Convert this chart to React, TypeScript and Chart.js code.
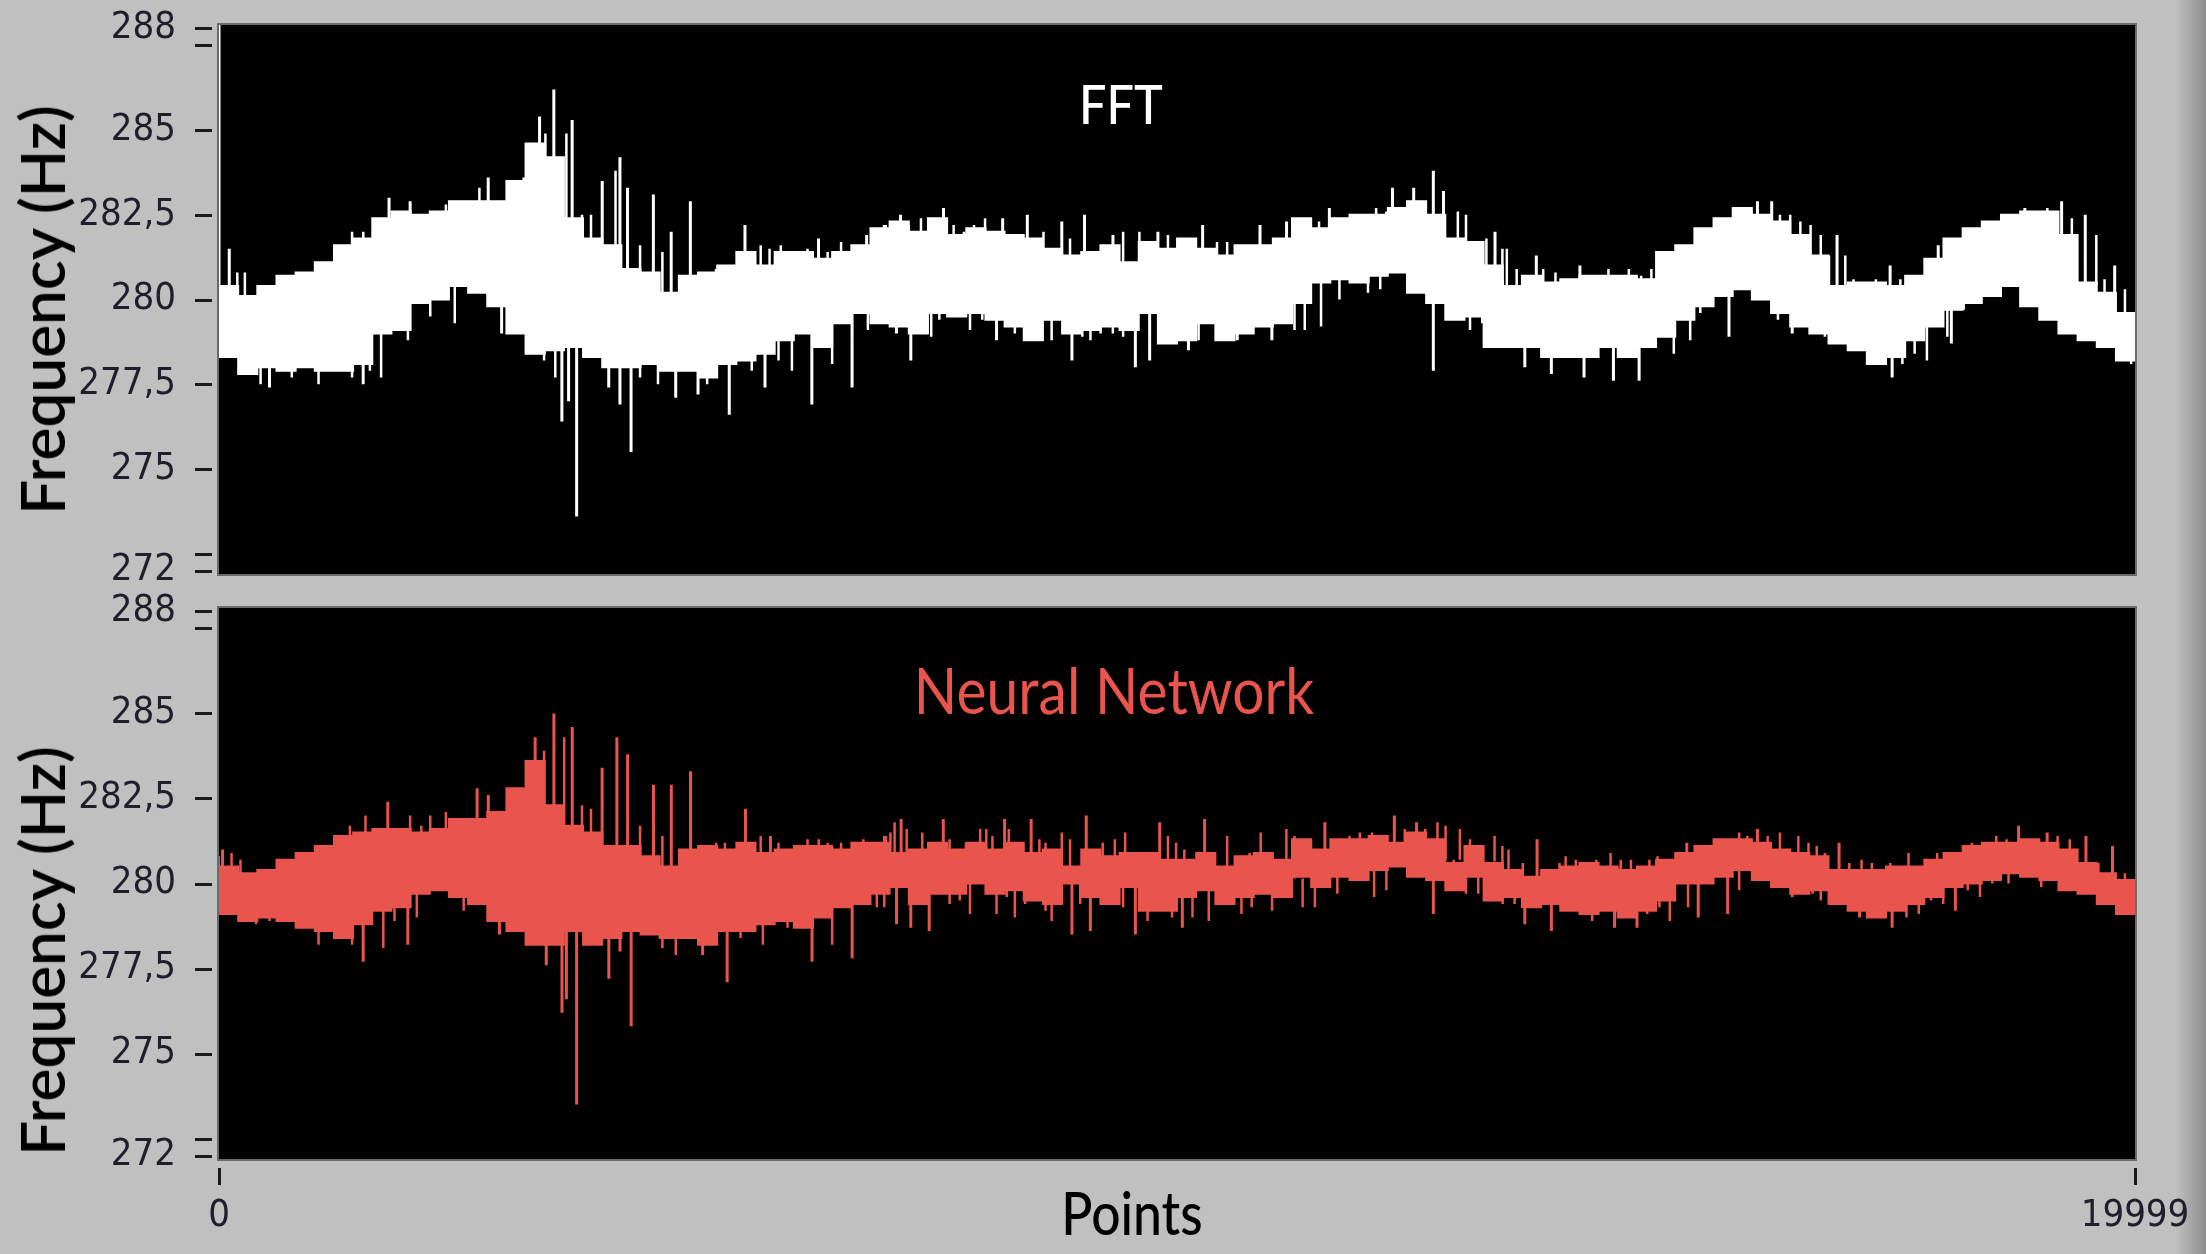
import React, { useEffect, useRef } from 'react';
import { Chart, registerables } from 'chart.js';

Chart.register(...registerables);

// ---------- data ----------
const X_MAX = 19999;
const BIN_STEP = 200;
// sample-index grid of the min/max envelope (one bin per 200 points, plus the last sample)
const BIN_X: number[] = Array.from({ length: 100 }, (_, i) => i * BIN_STEP).concat([X_MAX]);

const Y_TICKS = [272, 272.5, 275, 277.5, 280, 282.5, 285, 287.5, 288];
const Y_LABELS = [272, 275, 277.5, 280, 282.5, 285, 288];
const X_TICKS = [0, 19999];

// FFT envelope (Hz)
const FFT_UPPER = [
  280.8, 280.4, 280.1, 280.4, 280.7, 280.8, 281.1, 281.6, 281.8, 282.4, 282.6, 282.5, 282.6, 282.9, 282.9, 282.9, 283.5, 284.6,
  284.2, 282.4, 281.8, 281.6, 280.9, 280.8, 280.2, 280.7, 280.8, 281.0, 281.4, 281.0, 281.4, 281.4, 281.2, 281.4, 281.6,
  282.1, 282.3, 282.0, 282.4, 281.9, 282.1, 282.0, 281.9, 281.8, 281.5, 281.3, 281.4, 281.6, 281.1, 281.7, 281.5, 281.8,
  281.5, 281.3, 281.6, 281.6, 281.8, 282.4, 282.1, 282.4, 282.5, 282.5, 282.7, 282.9, 282.5, 281.8, 281.7,
  281.0, 280.4, 280.7, 280.5, 280.6, 280.7, 280.7, 280.7, 280.6, 281.4, 281.6, 282.1, 282.4, 282.7, 282.5, 282.3, 281.9,
  281.3, 280.4, 280.5, 280.5, 280.4, 280.7, 281.2, 281.8, 282.1, 282.3, 282.5, 282.6, 282.6, 281.9, 280.5, 280.2, 279.6,
];
const FFT_LOWER = [
  278.8, 278.3, 277.8, 278.0, 277.9, 278.0, 277.9, 277.9, 278.1, 279.0, 279.1, 279.9, 280.0, 280.4, 280.2, 279.8, 279.0, 278.4,
  278.5, 278.6, 278.3, 278.0, 278.0, 278.1, 277.9, 277.9, 277.7, 278.1, 278.2, 278.4, 278.8, 279.0, 278.6, 279.3, 279.6,
  279.3, 279.2, 279.0, 279.6, 279.5, 279.6, 279.4, 279.2, 278.8, 279.4, 279.0, 279.1, 279.2, 279.1, 279.6, 278.7, 278.8,
  279.3, 278.8, 279.0, 279.2, 279.3, 279.9, 280.5, 280.6, 280.5, 280.7, 280.8, 280.2, 279.9, 279.4, 279.5,
  278.6, 278.6, 278.6, 278.3, 278.3, 278.3, 278.6, 278.3, 278.6, 278.9, 279.4, 279.8, 280.1, 280.3, 280.0, 279.6, 279.2,
  279.0, 278.7, 278.5, 278.1, 278.3, 278.8, 279.2, 279.7, 279.9, 280.1, 280.4, 279.8, 279.4, 279.0, 278.8, 278.6, 278.2,
];
// FFT isolated spikes: sample index and tip value (Hz)
const FFT_SPIKE_X = [
  0, 107, 1775, 1995, 2810, 3183, 3346, 3495, 3686, 4000, 4185, 4264, 4534, 4720, 4920, 5490, 6258, 6760, 6944, 6957,
  7114, 7562, 8180, 8437, 8797, 9034, 9331, 9800, 10267, 10866, 11143, 11228, 11590, 12249, 12470, 12675, 12781, 13319,
  13750, 14205, 15164, 16058, 16207, 16889, 17443, 17945, 18849, 19233, 19480, 19787,
  527, 1505, 2950, 3230, 3579, 3649, 3733, 4068, 4185, 4301, 4767, 5000, 5326, 5699, 6188, 6608, 7071, 7221, 8116, 8903,
  9565, 9714, 10119, 10628, 10990, 12675, 13630, 13907, 14248, 14555, 14823, 15761, 16421, 17464, 18082,
];
const FFT_SPIKE_Y = [
  288.1, 281.5, 283.0, 282.9, 283.6, 283.6, 285.4, 286.2, 285.3, 283.5, 284.2, 283.3, 283.1, 282.0, 282.9, 282.2, 281.8,
  281.9, 282.2, 282.2, 282.5, 282.7, 282.4, 282.5, 282.3, 282.5, 281.9, 282.0, 282.2, 282.2, 282.3, 282.3, 282.7, 283.3,
  283.3, 283.8, 283.2, 282.0, 281.3, 281.0, 281.4, 282.9, 282.9, 281.9, 281.0, 281.6, 282.7, 282.9, 282.5, 281.0,
  277.4, 277.5, 279.0, 278.5, 276.4, 277.0, 273.6, 277.4, 276.9, 275.5, 277.1, 277.2, 276.6, 277.4, 276.9, 277.4, 279.0,
  278.2, 278.8, 278.2, 278.0, 278.2, 278.5, 278.8, 278.8, 277.9, 278.0, 277.8, 277.7, 277.6, 277.6, 278.9, 279.0, 277.7,
  278.7,
];
// FFT short edge hairs: sample index and tip value (Hz)
const FFT_HAIR_X = [
  191, 270, 480, 667, 783, 900, 1016, 1133, 1203, 1389, 1506, 1622, 1902, 2088, 2205, 2368, 2461, 2624, 2718, 2951, 3044,
  3114, 3253, 3407, 3626, 3789, 3883, 4139, 4395, 4628, 5188, 5304, 5421, 5654, 5747, 5864, 6143, 6353, 6493, 6609,
  247, 340, 434, 620, 760, 900, 1039, 1133, 1273, 1389, 1575, 1692, 1972, 2205, 2461, 3137, 3393, 3510, 3836, 3953, 4395,
  4582, 4908, 5095, 5561, 5840, 5980, 6400, 6773, 6912,
  7008, 7200, 7327, 7434, 7668, 7775, 7881, 7996, 8606, 8883, 9215, 9437, 9607, 9905, 10033, 10161, 10417, 10523, 10630,
  10971, 11482, 11695, 11908, 12078, 12185, 12313, 12547, 12931, 13016, 13229, 13442,
  6944, 7327, 7434, 7519, 7668, 7839, 7967, 8201, 8307, 8478, 8584, 8691, 9011, 9096, 9202, 9330, 9437, 9969, 10225, 10417,
  10736, 11226, 11333, 11503, 11695, 11993, 12121, 12590, 12824, 12931, 13058, 13186, 13399, 13527,
  13396, 13545, 13822, 13950, 14290, 14376, 14503, 14716, 14844, 14951, 15270, 15356, 15484, 15633, 15718, 15846, 15931,
  16293, 16400, 16506, 16613, 16719, 16805, 16975, 17060, 17294, 17550, 17657, 18040, 18168, 18296, 18402, 18509, 18637,
  18743, 18978, 19084, 19340, 19595, 19681, 19894,
  13396, 13523, 13779, 14013, 14120, 14376, 14482, 14716, 14951, 15100, 15185, 15356, 15462, 16272, 16506, 16634, 16762,
  16890, 17017, 17124, 17231, 17358, 17571, 17699, 17827, 17912, 18040, 18211, 19191, 19319, 19425, 19574, 19659, 19787,
  19894, 19958,
];
const FFT_HAIR_Y = [
  280.8, 280.8, 280.3, 280.5, 280.6, 280.8, 280.6, 280.9, 281.2, 282.0, 282.0, 282.0, 282.2, 282.5, 282.5, 282.8, 282.5,
  282.7, 283.3, 282.9, 282.9, 283.1, 283.2, 284.9, 284.9, 282.5, 282.5, 283.8, 281.6, 281.4, 280.9, 280.8, 281.0, 281.6,
  281.5, 281.6, 281.5, 281.4, 281.7, 281.4,
  278.4, 277.9, 277.5, 277.9, 277.7, 278.3, 277.5, 278.2, 277.9, 277.7, 277.9, 277.7, 278.8, 279.5, 279.3, 279.3, 278.2,
  277.7, 278.6, 278.3, 277.7, 277.5, 277.9, 277.5, 277.9, 278.2, 277.9, 278.1, 279.1, 279.5,
  282.3, 282.2, 282.4, 282.0, 282.2, 282.0, 282.2, 282.4, 282.0, 281.8, 281.5, 282.0, 282.0, 281.9, 281.6, 281.4, 281.7,
  281.7, 281.6, 281.6, 282.3, 282.0, 282.5, 282.7, 282.6, 282.7, 282.6, 282.6, 282.5, 281.8, 281.5,
  279.5, 279.5, 278.9, 279.4, 279.5, 279.1, 279.4, 279.5, 279.0, 279.5, 279.2, 278.8, 278.9, 278.8, 279.0, 279.0, 278.9,
  279.1, 278.8, 279.4, 279.3, 279.1, 279.1, 279.2, 280.0, 280.2, 280.3, 280.2, 280.0, 279.8, 279.1, 279.3, 278.6, 278.6,
  281.5, 280.9, 280.9, 280.8, 280.7, 280.7, 280.9, 280.9, 280.7, 280.9, 281.5, 281.3, 281.6, 282.4, 282.1, 282.4, 282.5,
  282.5, 282.5, 282.3, 282.2, 281.9, 281.3, 281.3, 280.6, 280.6, 280.6, 280.7, 280.9, 281.3, 281.9, 281.9, 282.2, 282.2,
  282.4, 282.4, 282.7, 282.4, 281.9, 280.6, 280.3,
  279.2, 278.6, 278.9, 278.9, 278.5, 278.5, 278.7, 278.9, 278.6, 278.9, 278.4, 278.8, 279.6, 279.4, 279.8, 279.5, 278.9,
  279.6, 278.9, 278.6, 278.9, 278.3, 278.1, 278.4, 278.2, 279.2, 278.9, 279.7, 279.4, 279.6, 279.0, 279.1, 278.8, 279.0,
  278.6, 278.1,
];

// Neural Network envelope (Hz)
const NN_UPPER = [
  280.8, 280.5, 280.3, 280.4, 280.7, 280.9, 281.1, 281.4, 281.5, 281.6, 281.6, 281.5, 281.6, 281.9, 281.9, 282.1, 282.8, 283.6,
  282.3, 281.7, 281.5, 281.1, 281.1, 280.8, 280.5, 281.0, 281.1, 281.0, 281.2, 280.9, 281.0, 281.1, 281.1, 281.0, 281.2,
  281.2, 280.9, 281.0, 281.2, 281.0, 281.2, 281.0, 281.2, 280.9, 281.0, 280.5, 281.0, 280.8, 280.9, 280.9, 280.7, 280.7,
  280.9, 280.5, 280.8, 280.9, 280.7, 281.3, 281.0, 281.3, 281.3, 281.4, 281.2, 281.5, 281.3, 280.6, 281.1,
  280.6, 280.4, 280.2, 280.4, 280.5, 280.6, 280.5, 280.4, 280.5, 280.7, 280.9, 281.1, 281.3, 281.3, 281.2, 281.0, 280.9,
  280.8, 280.4, 280.4, 280.4, 280.5, 280.5, 280.7, 280.9, 281.1, 281.2, 281.2, 281.3, 281.2, 281.0, 280.6, 280.3, 280.1,
];
const NN_LOWER = [
  279.5, 279.1, 278.9, 279.0, 278.9, 278.7, 278.6, 278.4, 278.8, 279.2, 279.3, 279.7, 279.8, 279.6, 279.4, 278.9, 278.6, 278.2,
  278.2, 278.6, 278.2, 278.4, 278.6, 278.5, 278.4, 278.4, 278.2, 278.6, 278.6, 278.8, 278.9, 278.7, 279.0, 279.3, 279.4,
  279.7, 279.9, 279.4, 279.7, 279.7, 280.0, 279.7, 279.8, 279.5, 279.4, 280.0, 279.6, 279.4, 279.9, 279.2, 279.2, 279.6,
  279.8, 279.4, 279.6, 279.7, 279.6, 280.2, 279.9, 280.2, 280.1, 280.4, 280.5, 280.2, 280.1, 279.8, 280.2,
  279.5, 279.6, 279.3, 279.4, 279.2, 279.1, 279.2, 279.0, 279.2, 279.5, 280.0, 280.0, 280.2, 280.4, 280.1, 279.9, 279.7,
  279.8, 279.4, 279.2, 279.0, 279.2, 279.4, 279.6, 279.9, 280.0, 280.1, 280.3, 280.2, 280.1, 279.8, 279.7, 279.4, 279.1,
];
const NN_SPIKE_X = [
  37, 1762, 2694, 2811, 3300, 3496, 3687, 3999, 4153, 4265, 4535, 4721, 4922, 5495, 5756, 6959, 7120, 7560, 8200, 8477,
  9052, 9819, 10288, 11543, 12268, 12500, 13758, 15321, 16058, 16910, 18784, 19082, 19487, 19764,
  1505, 1971, 2927, 3416, 3580, 3626, 3733, 4069, 4186, 4302, 5048, 5304, 6190, 6609, 7072, 7221, 7413, 8903, 9095, 9565,
  10055, 12675, 13630, 13907, 14567, 14801, 15440, 15747, 16421, 17124, 17464, 18124,
];
const NN_SPIKE_Y = [
  281.0, 282.4, 282.8, 282.6, 284.3, 285.0, 284.6, 283.4, 284.3, 283.8, 282.9, 282.9, 283.3, 282.2, 281.4, 281.4, 281.9,
  281.9, 281.9, 281.9, 282.0, 281.8, 281.9, 281.8, 282.0, 281.8, 281.3, 281.2, 281.6, 281.2, 281.7, 281.5, 281.4, 281.1,
  277.7, 278.2, 278.5, 277.6, 276.2, 276.6, 273.5, 277.2, 278.0, 275.8, 277.9, 277.1, 277.7, 277.8, 278.8, 278.7, 278.6,
  278.5, 278.6, 278.5, 278.7, 279.1, 278.8, 278.6, 278.7, 278.7, 279.0, 279.1, 279.6, 279.0, 278.7, 279.2,
];
const NN_HAIR_X = [
  131, 224, 480, 690, 806, 923, 1039, 1156, 1273, 1366, 1529, 1622, 1879, 1995, 2112, 2205, 2368, 2484, 2578, 2950, 3090,
  3184, 3393, 3603, 3789, 3883, 4395, 4628, 5188, 5281, 5654, 5840, 6143, 6260, 6353, 6493, 6726, 7052,
  37, 131, 247, 387, 527, 783, 900, 1039, 1133, 1273, 1389, 1715, 1832, 2065, 2321, 2554, 2718, 3044, 3114, 3230, 3347,
  3510, 3836, 3953, 4465, 4628, 4768, 4885, 5444, 5561, 5677, 5794, 5934, 6050, 6400, 6866,
  6944, 7008, 7178, 7340, 7626, 7796, 7945, 8009, 8073, 8244, 8563, 8627, 8797, 8883, 9224, 9351, 9458, 9905, 9990, 10076,
  10523, 10758, 10873, 11141, 11226, 11397, 11801, 11908, 12036, 12164, 12377, 12590, 12718, 12803, 12952, 13058, 13314,
  6944, 7306, 7626, 7732, 7839, 8116, 8222, 8307, 8414, 8627, 8691, 8797, 8989, 9202, 9330, 9437, 9692, 9863, 9948, 10161,
  10331, 10544, 10672, 10779, 10992, 11311, 11439, 11673, 12057, 12185, 12547, 12888, 13016, 13144, 13399, 13527,
  13396, 13460, 13609, 13992, 14056, 14163, 14376, 14525, 14631, 14738, 14930, 15015, 15441, 15547, 15633, 15739, 15867,
  15952, 16165, 16293, 16485, 16591, 16677, 16762, 17017, 17145, 17252, 17444, 17635, 17934, 18168, 18296, 18424, 18551,
  18658, 18893, 19191, 19318, 19617, 19894,
  13396, 13523, 13758, 14035, 14141, 14333, 14461, 14695, 14908, 15036, 15143, 15334, 15867, 16080, 16293, 16527, 16634,
  16719, 16847, 17252, 17358, 17614, 17742, 17870, 17997, 18253, 18381, 18509, 18679, 19020, 19276, 19404, 19532, 19660,
  19787, 19915,
];
const NN_HAIR_Y = [
  280.9, 280.7, 280.4, 280.3, 280.8, 280.9, 280.8, 281.0, 281.0, 281.7, 282.0, 281.6, 281.5, 282.0, 281.7, 282.0, 282.1,
  281.7, 281.9, 281.9, 282.1, 282.7, 283.9, 284.3, 282.3, 282.2, 281.7, 281.4, 281.2, 281.2, 281.4, 281.2, 281.3, 281.3,
  281.2, 281.2, 281.3, 281.8,
  279.5, 279.3, 279.1, 278.8, 278.9, 278.9, 278.8, 278.2, 278.6, 278.5, 278.2, 278.1, 278.9, 279.0, 279.8, 279.2, 279.6,
  279.2, 278.7, 278.9, 278.4, 278.8, 278.9, 278.4, 278.8, 278.1, 277.9, 279.3, 278.4, 279.0, 278.2, 279.3, 278.7, 278.8,
  278.2, 279.3,
  281.4, 281.5, 281.6, 281.5, 281.3, 281.2, 281.6, 281.6, 281.4, 281.6, 281.3, 281.2, 281.5, 281.3, 281.2, 281.3, 281.5,
  281.4, 281.2, 281.0, 281.4, 280.9, 281.5, 281.6, 281.4, 281.3, 281.4, 281.5, 281.5, 281.4, 281.6, 281.6, 281.8, 281.7,
  281.6, 281.3, 281.4,
  279.3, 279.6, 279.4, 279.5, 279.1, 279.1, 279.6, 279.0, 279.4, 279.2, 278.9, 279.5, 279.4, 279.6, 279.4, 279.3, 278.9,
  279.3, 279.0, 279.0, 278.9, 279.7, 279.1, 279.3, 279.2, 279.3, 279.3, 279.7, 279.6, 279.8, 280.3, 279.8, 279.7, 279.7,
  279.4, 279.5,
  281.1, 281.0, 280.6, 280.6, 280.8, 280.7, 280.7, 280.9, 280.7, 280.7, 280.7, 280.8, 280.9, 281.1, 281.2, 281.2, 281.5,
  281.4, 281.4, 281.5, 281.4, 281.2, 281.1, 280.9, 280.6, 280.7, 280.6, 280.6, 280.9, 280.9, 280.9, 281.2, 281.0, 281.4,
  281.3, 281.3, 281.4, 281.3, 280.6, 280.3,
  279.7, 279.4, 279.8, 279.4, 279.2, 278.9, 279.3, 279.5, 279.1, 279.3, 278.9, 279.3, 279.8, 280.1, 279.9, 280.0, 279.7,
  279.5, 279.6, 279.6, 279.1, 279.0, 279.1, 279.5, 279.4, 279.8, 279.6, 280.0, 280.0, 279.9, 279.8, 280.0, 279.7, 279.6,
  279.6, 279.1,
];

// ---------- styling ----------
const PAGE_W = 2206;
const PAGE_H = 1254;
const BG = '#c0c0c0';
const WHITE = '#ffffff';
const NN_RED = '#e9544c';
const TICK_COLOR = '#1f1f2c';
const TICK_FONT = {
  family: "'DejaVu Sans Condensed', 'DejaVu Sans', sans-serif",
  size: 38,
};
const TITLE_FONT = "Lato, 'Open Sans', sans-serif";
const PLOT_LEFT = 219;
const PLOT_RIGHT = 2135;

function spikePoints(xs: number[], ys: number[], upper: number[], lower: number[]) {
  const pts: { x: number; y: number | null }[] = [];
  xs.forEach((x, i) => {
    const b = Math.min(Math.floor(x / BIN_STEP), upper.length - 1);
    const mid = (upper[b] + lower[b]) / 2;
    pts.push({ x, y: mid }, { x, y: ys[i] }, { x, y: null });
  });
  return pts;
}

const plotBackground = {
  id: 'plotBackground',
  beforeDraw(chart: any) {
    const { ctx, chartArea: a } = chart;
    ctx.save();
    ctx.fillStyle = '#000000';
    ctx.fillRect(a.left, a.top, a.right - a.left, a.bottom - a.top);
    ctx.strokeStyle = '#6a6a6a';
    ctx.lineWidth = 2;
    ctx.strokeRect(a.left - 1, a.top - 1, a.right - a.left + 2, a.bottom - a.top + 2);
    ctx.restore();
  },
};

const tickMarks = {
  id: 'tickMarks',
  afterDraw(chart: any) {
    const { ctx, chartArea: a, scales } = chart;
    ctx.save();
    ctx.strokeStyle = '#1a1a1a';
    ctx.lineWidth = 3;
    const ys = scales.y;
    ys.ticks.forEach((t: any) => {
      const py = Math.round(ys.getPixelForValue(t.value)) + 0.5;
      ctx.beginPath();
      ctx.moveTo(a.left - 24, py);
      ctx.lineTo(a.left - 7, py);
      ctx.stroke();
    });
    const xs = scales.x;
    if (xs.options.display) {
      xs.ticks.forEach((t: any) => {
        const px = Math.round(xs.getPixelForValue(t.value)) + 0.5;
        ctx.beginPath();
        ctx.moveTo(px, a.bottom + 9);
        ctx.lineTo(px, a.bottom + 26);
        ctx.stroke();
      });
    }
    ctx.restore();
  },
};

interface PanelProps {
  top: number;
  height: number;
  padTop: number;
  padBottom: number;
  showX: boolean;
  upper: number[];
  lower: number[];
  spikeX: number[];
  spikeY: number[];
  hairX: number[];
  hairY: number[];
  color: string;
}

function Panel(p: PanelProps) {
  const ref = useRef<HTMLCanvasElement>(null);
  useEffect(() => {
    const upperPts = BIN_X.map((x, i) => ({ x, y: p.upper[i] }));
    const lowerPts = BIN_X.map((x, i) => ({ x, y: p.lower[i] }));
    const chart = new Chart(ref.current as HTMLCanvasElement, {
      type: 'line',
      data: {
        datasets: [
          {
            data: upperPts,
            borderColor: p.color,
            borderWidth: 2,
            stepped: 'after',
            fill: false,
            pointRadius: 0,
          },
          {
            data: lowerPts,
            borderColor: p.color,
            backgroundColor: p.color,
            borderWidth: 2,
            stepped: 'after',
            fill: '-1',
            pointRadius: 0,
          },
          {
            data: spikePoints(p.hairX, p.hairY, p.upper, p.lower),
            borderColor: p.color,
            borderWidth: 2.5,
            fill: false,
            pointRadius: 0,
            spanGaps: false,
          },
          {
            data: spikePoints(p.spikeX, p.spikeY, p.upper, p.lower),
            borderColor: p.color,
            borderWidth: 3,
            fill: false,
            pointRadius: 0,
            spanGaps: false,
          },
        ],
      } as any,
      options: {
        animation: false,
        responsive: false,
        maintainAspectRatio: false,
        devicePixelRatio: 1,
        events: [],
        layout: { padding: { top: p.padTop, bottom: p.padBottom, left: 0, right: PAGE_W - PLOT_RIGHT } },
        plugins: { legend: { display: false }, tooltip: { enabled: false }, title: { display: false } },
        scales: {
          x: {
            type: 'linear',
            min: 0,
            max: X_MAX,
            display: p.showX,
            grid: { display: false },
            border: { display: false },
            afterBuildTicks: (s: any) => {
              s.ticks = X_TICKS.map((v) => ({ value: v }));
            },
            afterFit: (s: any) => {
              if (p.showX) s.height = 95;
              s.paddingLeft = 0;
              s.paddingRight = 0;
            },
            ticks: {
              autoSkip: false,
              maxRotation: 0,
              padding: 26,
              color: TICK_COLOR,
              font: TICK_FONT,
              callback: (v: any) => String(v),
            },
          },
          y: {
            type: 'linear',
            min: 271.9,
            max: 288.1,
            grid: { display: false },
            border: { display: false },
            afterBuildTicks: (s: any) => {
              s.ticks = Y_TICKS.map((v) => ({ value: v }));
            },
            afterFit: (s: any) => {
              s.width = PLOT_LEFT;
              s.paddingTop = 0;
              s.paddingBottom = 0;
            },
            ticks: {
              autoSkip: false,
              padding: 35,
              color: TICK_COLOR,
              font: TICK_FONT,
              callback: (v: any) => (Y_LABELS.includes(v) ? String(v).replace('.', ',') : ''),
            },
          },
        },
      } as any,
      plugins: [plotBackground, tickMarks],
    });
    return () => chart.destroy();
  }, []);
  return (
    <canvas
      ref={ref}
      width={PAGE_W}
      height={p.height}
      style={{ position: 'absolute', left: 0, top: p.top, width: PAGE_W, height: p.height }}
    />
  );
}

const label = (extra: React.CSSProperties): React.CSSProperties => ({
  position: 'absolute',
  whiteSpace: 'nowrap',
  lineHeight: 1,
  fontFamily: TITLE_FONT,
  ...extra,
});

export default function App() {
  return (
    <div
      style={{
        position: 'absolute',
        left: 0,
        top: 0,
        width: PAGE_W,
        height: PAGE_H,
        background: BG,
        overflow: 'hidden',
      }}
    >
      <div
        style={{
          position: 'absolute',
          left: 2176,
          top: 0,
          width: 30,
          height: PAGE_H,
          background: 'linear-gradient(to right, #c0c0c0, #8c8c8c)',
        }}
      />
      <Panel
        top={0}
        height={600}
        padTop={25}
        padBottom={26}
        showX={false}
        upper={FFT_UPPER}
        lower={FFT_LOWER}
        spikeX={FFT_SPIKE_X}
        spikeY={FFT_SPIKE_Y}
        hairX={FFT_HAIR_X}
        hairY={FFT_HAIR_Y}
        color={WHITE}
      />
      <Panel
        top={580}
        height={674}
        padTop={28}
        padBottom={0}
        showX={true}
        upper={NN_UPPER}
        lower={NN_LOWER}
        spikeX={NN_SPIKE_X}
        spikeY={NN_SPIKE_Y}
        hairX={NN_HAIR_X}
        hairY={NN_HAIR_Y}
        color={NN_RED}
      />
      <div
        style={label({
          left: 1121,
          top: 104,
          color: WHITE,
          fontSize: 54,
          fontWeight: 500,
          transform: 'translate(-50%, -50%) scaleX(0.9)',
        })}
      >
        FFT
      </div>
      <div
        style={label({
          left: 1114,
          top: 690,
          color: NN_RED,
          fontSize: 64,
          fontWeight: 400,
          transform: 'translate(-50%, -50%) scaleX(0.89)',
        })}
      >
        Neural Network
      </div>
      <div
        style={label({
          left: 1132,
          top: 1212,
          color: '#000000',
          fontSize: 60,
          fontWeight: 500,
          transform: 'translate(-50%, -50%) scaleX(0.86)',
        })}
      >
        Points
      </div>
      <div
        style={label({
          left: 41,
          top: 310,
          color: '#000000',
          fontSize: 62,
          fontWeight: 600,
          transform: 'translate(-50%, -50%) rotate(-90deg)',
        })}
      >
        Frequency (Hz)
      </div>
      <div
        style={label({
          left: 41,
          top: 951,
          color: '#000000',
          fontSize: 62,
          fontWeight: 600,
          transform: 'translate(-50%, -50%) rotate(-90deg)',
        })}
      >
        Frequency (Hz)
      </div>
    </div>
  );
}
